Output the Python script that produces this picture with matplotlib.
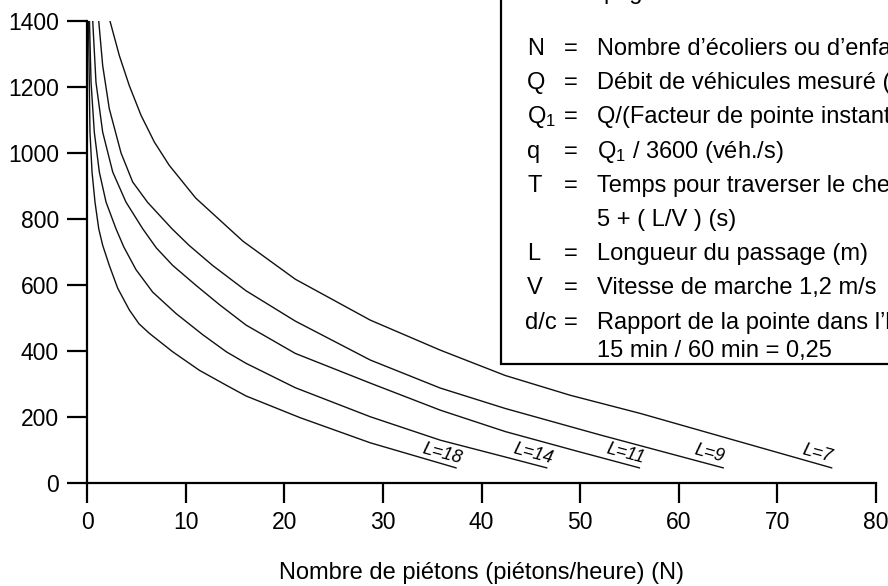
import matplotlib
matplotlib.use("Agg")
import matplotlib.pyplot as plt
from matplotlib.patches import Rectangle

plt.rcParams['font.family'] = ['Liberation Sans', 'DejaVu Sans']
plt.rcParams['mathtext.fontset'] = 'custom'
plt.rcParams['mathtext.rm'] = 'Liberation Sans'
plt.rcParams['mathtext.it'] = 'Liberation Sans:italic'

# courbes N (piétons/heure) -> Q (véh./h) pour chaque longueur de passage L
lengths = [18, 14, 11, 9, 7]

n_18 = [0.12, 0.27, 0.48, 0.78, 1.16, 1.56, 2.23, 3.08, 4.26, 5.24, 6.29, 8.66, 11.36, 14.07, 16.1, 21.6, 28.7, 37.4]
q_18 = [1400, 1063, 942, 851, 770, 720, 659, 590, 524, 482, 453, 397, 341, 296, 263, 197, 121, 45]

n_14 = [0.22, 0.38, 0.71, 1.22, 1.9, 2.91, 3.7, 4.94, 6.63, 9.0, 11.7, 14.1, 16.1, 21.1, 28.7, 35.8, 42.9, 46.6]
q_14 = [1400, 1214, 1063, 942, 851, 770, 715, 646, 578, 513, 449, 397, 362, 288, 200, 129, 74, 45]

n_11 = [0.55, 0.88, 1.56, 2.58, 3.92, 5.62, 7.0, 8.66, 11.0, 13.4, 16.1, 21.1, 28.7, 35.8, 42.4, 49.5, 56.0]
q_11 = [1400, 1214, 1063, 942, 851, 770, 712, 659, 599, 540, 478, 392, 302, 220, 155, 97, 45]

n_9 = [1.16, 1.56, 2.23, 3.42, 4.6, 6.12, 8.59, 10.31, 12.7, 16.1, 21.1, 28.7, 35.8, 42.4, 52.0, 58.0, 64.5]
q_9 = [1400, 1265, 1134, 1000, 912, 850, 770, 720, 659, 582, 490, 372, 287, 225, 145, 97, 45]

n_7 = [2.3, 3.25, 4.26, 5.45, 6.8, 8.32, 11.0, 15.8, 21.1, 28.7, 35.8, 42.4, 49.0, 56.1, 65.5, 75.5]
q_7 = [1400, 1295, 1204, 1114, 1033, 962, 863, 732, 617, 493, 402, 325, 265, 210, 130, 45]

curves = [(n_18, q_18), (n_14, q_14), (n_11, q_11), (n_9, q_9), (n_7, q_7)]

x_ticks = list(range(0, 81, 10))
y_ticks = list(range(0, 1401, 200))

legend_rows = [
    ("N", "Nombre d’écoliers ou d’enfants (piétons/heure)"),
    ("Q", "Débit de véhicules mesuré (véh./h)"),
    ("Q$_1$", "Q/(Facteur de pointe instantanée)"),
    ("q", "Q$_1$ / 3600 (véh./s)"),
    ("T", "Temps pour traverser le chemin (s) ="),
    ("", "5 + ( L/V ) (s)"),
    ("L", "Longueur du passage (m)"),
    ("V", "Vitesse de marche 1,2 m/s"),
    ("d/c", "Rapport de la pointe dans l’heure ="),
    ("", "15 min / 60 min = 0,25"),
]

W, H = 888, 586


def fx(x):
    return x / W


def fy(y):
    return 1 - y / H


fig = plt.figure(figsize=(W / 100, H / 100), dpi=100)
ax = fig.add_axes([fx(87.3), fy(482.7), fx(876) - fx(87.3), fy(21) - fy(482.7)])

for (n, q), l in zip(curves, lengths):
    ax.plot(n, q, color='#111111', lw=1.0)
    ax.annotate(f"L={l}", xy=(n[-1], q[-1]), xytext=(-10, 10),
                textcoords='offset points', rotation=-15, rotation_mode='anchor',
                ha='center', va='center', style='italic', fontsize=13)

ax.set_xlim(0, 80)
ax.set_ylim(0, 1400)
ax.set_xticks(x_ticks)
ax.set_yticks(y_ticks)
for s in ['top', 'right']:
    ax.spines[s].set_visible(False)
for s in ['left', 'bottom']:
    ax.spines[s].set_linewidth(1.6)
ax.tick_params(direction='out', length=14.5, width=1.6, labelsize=16.5, pad=6)
ax.set_xlabel("Nombre de piétons (piétons/heure) (N)", fontsize=17, labelpad=20)

# cadre de la légende (coupé par le bord de la figure)
fig.add_artist(Rectangle((fx(501), fy(364)), 0.6, 0.8, transform=fig.transFigure,
                         facecolor='white', edgecolor='black', lw=1.6, clip_on=False))

fig.text(fx(603), fy(-0.5), "page", fontsize=17, va='baseline')
base = 55.0
for i, (sym, txt) in enumerate(legend_rows):
    if i < 9:
        yb = base + 34.2 * i
    else:
        yb = 356.7
    if sym == "d/c":
        fig.text(fx(525), fy(yb), sym, fontsize=17, va='baseline')
        fig.text(fx(571), fy(yb), "=", fontsize=17, va='baseline', ha='center')
    elif sym:
        fig.text(fx(527), fy(yb), sym, fontsize=17, va='baseline')
        fig.text(fx(571), fy(yb), "=", fontsize=17, va='baseline', ha='center')
    fig.text(fx(597), fy(yb), txt, fontsize=17, va='baseline')

fig.savefig("out.png", dpi=100)
